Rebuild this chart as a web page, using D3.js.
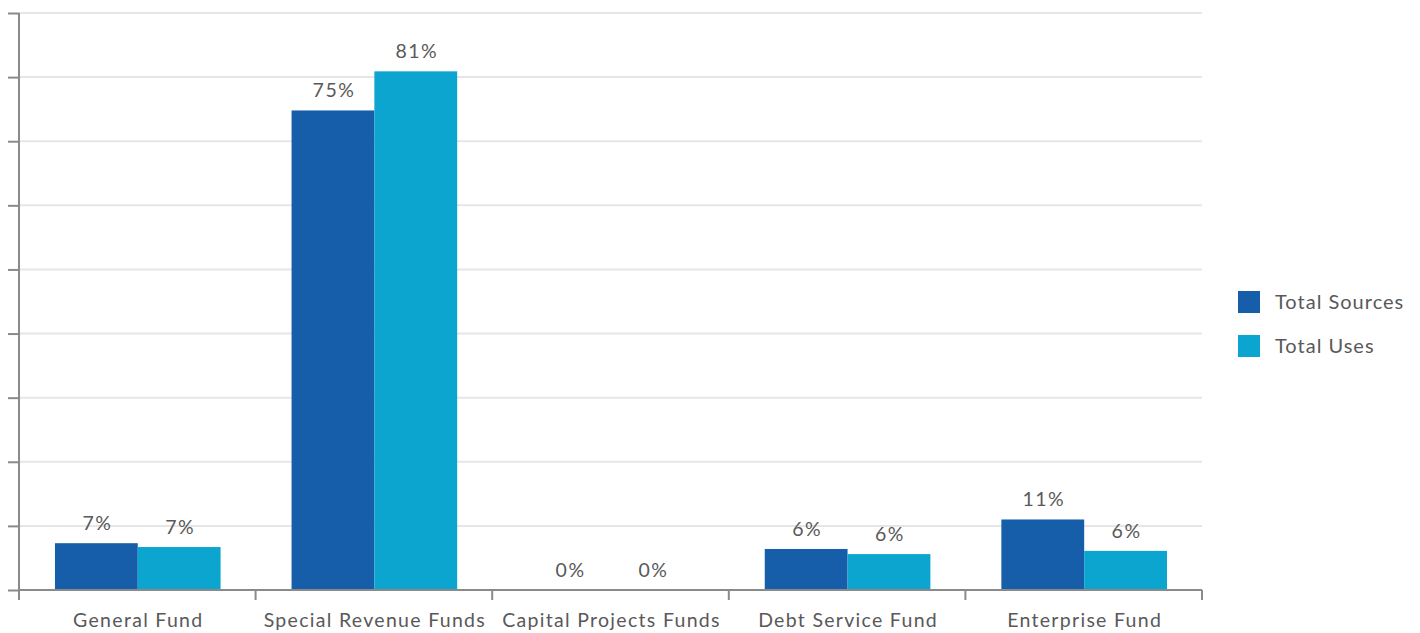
<!DOCTYPE html>
<html>
<head>
<meta charset="utf-8">
<script src="https://cdn.jsdelivr.net/npm/d3@7"></script>
<style>
  html, body { margin: 0; padding: 0; background: #fff; }
  svg { display: block; }
  text { font-family: Lato, "Open Sans", sans-serif; fill: #595959; }
</style>
</head>
<body>
<svg id="chart" width="1420" height="633"></svg>
<script>
// Fund shares of total sources and uses (percent)
const categories = ["General Fund", "Special Revenue Funds", "Capital Projects Funds", "Debt Service Fund", "Enterprise Fund"];
const seriesNames = ["Total Sources", "Total Uses"];
const totalSources = [7.3, 74.8, 0, 6.4, 11.0];
const totalUses = [6.7, 80.9, 0, 5.6, 6.1];
const yTicks = [0, 10, 20, 30, 40, 50, 60, 70, 80, 90];
const colors = ["#165ea9", "#0ca5cf"];

const seriesValues = [totalSources, totalUses];
const rows = categories.map((c, i) => ({
  category: c,
  values: seriesNames.map((s, j) => ({ series: s, value: seriesValues[j][i], idx: j }))
}));

const svg = d3.select("#chart");
const plotLeft = 19, plotRight = 1202, plotTop = 13, plotBottom = 590;

const x = d3.scaleBand().domain(categories).range([plotLeft, plotRight]).padding(0);
const step = x.bandwidth();
const xInner = d3.scaleBand().domain(seriesNames)
  .range([step * 0.152, step * 0.852]).padding(0);
const y = d3.scaleLinear().domain([0, 90]).range([plotBottom, plotTop]);

// horizontal gridlines
svg.append("g").selectAll("line").data(yTicks.slice(1)).join("line")
  .attr("x1", plotLeft).attr("x2", plotRight)
  .attr("y1", d => y(d)).attr("y2", d => y(d))
  .attr("stroke", "#e6e6e6").attr("stroke-width", 2);

// bars
const groups = svg.append("g").selectAll("g").data(rows).join("g")
  .attr("transform", d => `translate(${x(d.category)},0)`);

groups.selectAll("rect").data(d => d.values).join("rect")
  .attr("x", d => xInner(d.series))
  .attr("width", xInner.bandwidth())
  .attr("y", d => y(d.value))
  .attr("height", d => y(0) - y(d.value))
  .attr("fill", d => colors[d.idx]);

// value labels
const fmt = v => d3.format(".0f")(v) + "%";
groups.selectAll("text").data(d => d.values).join("text")
  .attr("x", d => xInner(d.series) + xInner.bandwidth() / 2 + 1)
  .attr("y", d => y(d.value) - 13)
  .attr("text-anchor", "middle")
  .attr("font-size", 19.5)
  .attr("letter-spacing", 1.5)
  .text(d => fmt(d.value));

// y axis (no labels)
const yAxis = d3.axisLeft(y).tickValues(yTicks).tickSize(11).tickFormat("");
const gy = svg.append("g").attr("transform", `translate(${plotLeft},0)`).call(yAxis);
gy.select(".domain").attr("stroke", "#8a8a8a").attr("stroke-width", 2)
  .attr("d", `M0,${plotTop}V${plotBottom}`);
gy.selectAll(".tick line").attr("stroke", "#8a8a8a").attr("stroke-width", 2);

// x axis with ticks at category boundaries
const boundaries = categories.map(c => x(c)).concat([plotRight]);
const gx = svg.append("g");
gx.append("line").attr("x1", plotLeft).attr("x2", plotRight)
  .attr("y1", plotBottom).attr("y2", plotBottom)
  .attr("stroke", "#8a8a8a").attr("stroke-width", 2);
gx.selectAll("line.tk").data(boundaries).join("line").attr("class", "tk")
  .attr("x1", d => d).attr("x2", d => d)
  .attr("y1", plotBottom).attr("y2", plotBottom + 10)
  .attr("stroke", "#8a8a8a").attr("stroke-width", 2);
gx.selectAll("text").data(categories).join("text")
  .attr("x", d => x(d) + step / 2 + 1)
  .attr("y", 627)
  .attr("text-anchor", "middle")
  .attr("font-size", 19.5)
  .attr("letter-spacing", 1.3)
  .text(d => d);

// legend
const legend = svg.append("g").selectAll("g").data(seriesNames).join("g")
  .attr("transform", (d, i) => `translate(1238,${291 + i * 44})`);
legend.append("rect").attr("width", 22).attr("height", 22)
  .attr("fill", (d, i) => colors[i]);
legend.append("text").attr("x", 37).attr("y", 11).attr("dy", "0.35em")
  .attr("font-size", 20).attr("letter-spacing", 1).text(d => d);
</script>
</body>
</html>
